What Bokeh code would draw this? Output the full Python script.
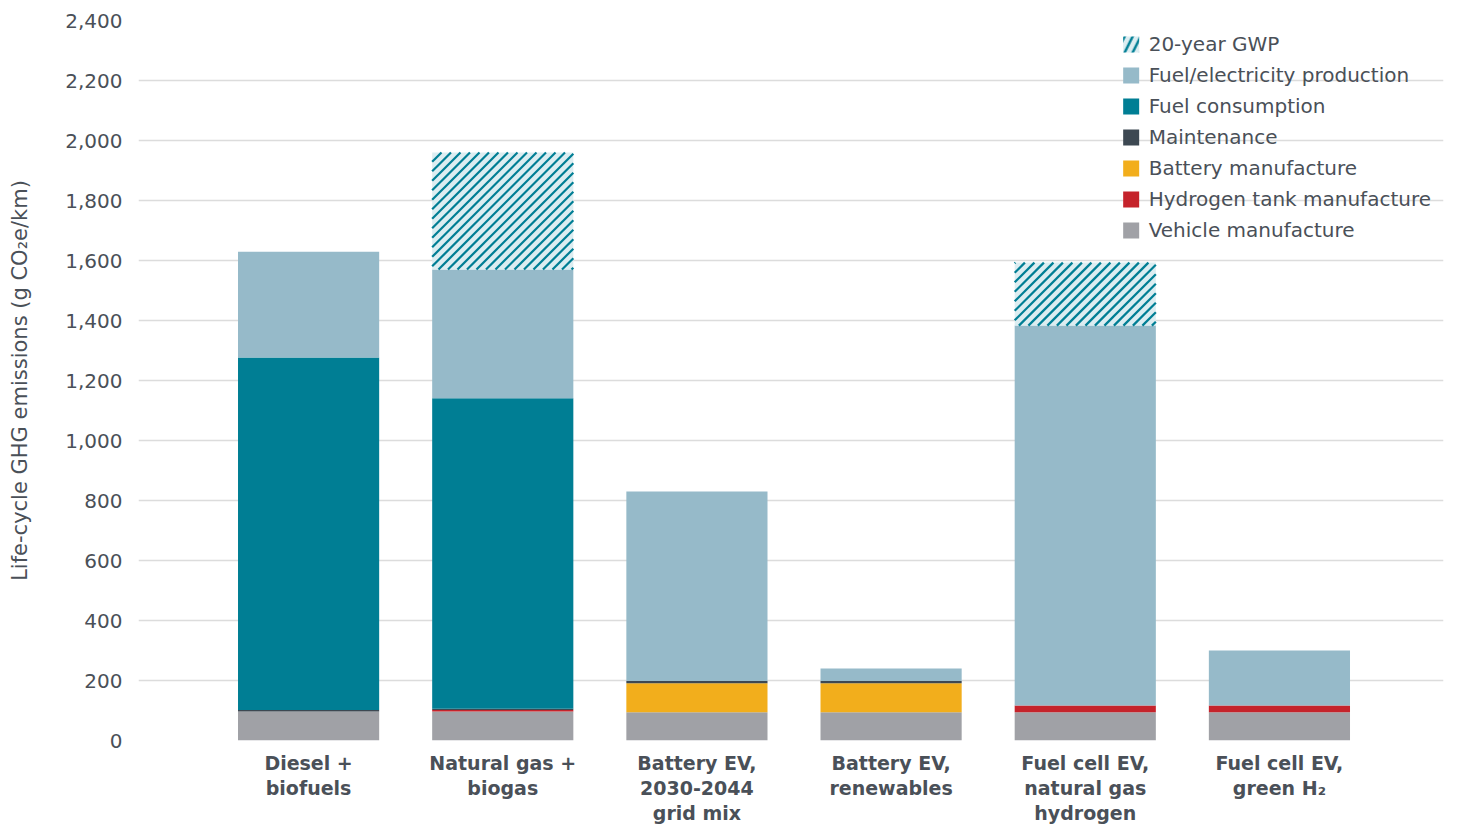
import numpy as np
from bokeh.plotting import figure
from bokeh.models import (ColumnDataSource, Range1d, FixedTicker, Legend, LegendItem,
                          NumeralTickFormatter)
from bokeh.embed import file_html
from bokeh.resources import INLINE

categories = ["Diesel +\nbiofuels", "Natural gas +\nbiogas", "Battery EV,\n2030-2044\ngrid mix",
              "Battery EV,\nrenewables", "Fuel cell EV,\nnatural gas\nhydrogen", "Fuel cell EV,\ngreen H\u2082"]
vehicle = [97, 97, 94, 94, 94, 94]
h2tank = [0, 5, 0, 0, 23, 23]
battery = [0, 0, 97, 97, 0, 0]
maintenance = [5, 4, 7, 7, 0, 0]
consumption = [1175, 1035, 0, 0, 0, 0]
production = [352, 429, 632, 42, 1266, 183]
gwp20 = [0, 390, 0, 0, 210, 0]

names = ["vehicle", "h2tank", "battery", "maintenance", "consumption", "production", "gwp20"]
labels = ["Vehicle manufacture", "Hydrogen tank manufacture", "Battery manufacture", "Maintenance",
          "Fuel consumption", "Fuel/electricity production", "20-year GWP"]
colors = ["#a0a1a6", "#c5232b", "#f2ae1c", "#3d4852", "#007e94", "#96bac9", "#dcedf1"]
HATCH = "#007e94"

x = list(range(len(categories)))
data = dict(x=x, vehicle=vehicle, h2tank=h2tank, battery=battery, maintenance=maintenance,
            consumption=consumption, production=production, gwp20=gwp20)
src = ColumnDataSource(data)

FONT = "DejaVu Sans"
TXT = "#4a5058"
FW, FH = 1305, 720
XR = (-0.876, 5.845)
YR = (0, 2400)
BAR_W = 0.727
p = figure(frame_width=FW, frame_height=FH, output_backend="svg", toolbar_location=None,
           x_range=Range1d(*XR), y_range=Range1d(*YR),
           min_border_left=138, min_border_right=10, min_border_top=20, min_border_bottom=5)
p.outline_line_color = None
p.background_fill_color = "white"

rs = p.vbar_stack(names, x="x", width=BAR_W, source=src, color=colors, line_color=None)

# 45-degree hatching of the "20-year GWP" segments, derived from the stacked data
sx = FW / (XR[1] - XR[0])
sy = FH / (YR[1] - YR[0])
step = 9.5
lw = 2.2
bottoms = np.sum([data[n] for n in names[:-1]], axis=0)
x0s, y0s, x1s, y1s = [], [], [], []
for xi, b, g in zip(x, bottoms, gwp20):
    if g <= 0:
        continue
    L = (xi - BAR_W / 2 - XR[0]) * sx
    R = (xi + BAR_W / 2 - XR[0]) * sx
    B = b * sy
    T = (b + g) * sy
    c = np.ceil((B - R) / step) * step
    while c < T - L:
        a = max(L, B - c)
        e = min(R, T - c)
        if e > a:
            x0s.append(a / sx + XR[0]); y0s.append((a + c) / sy)
            x1s.append(e / sx + XR[0]); y1s.append((e + c) / sy)
        c += step
p.segment(x0=x0s, y0=y0s, x1=x1s, y1=y1s, line_color=HATCH, line_width=lw)

# legend swatch for the hatched series (zero-height bar, only its legend glyph shows)
leg_src = ColumnDataSource(dict(x=[x[0]], top=[0]))
leg_r = p.vbar(x="x", top="top", width=BAR_W, source=leg_src, fill_color=colors[-1],
               line_color=None, hatch_pattern="/", hatch_color=HATCH, hatch_scale=16,
               hatch_weight=2.5)

p.xgrid.grid_line_color = None
p.ygrid.grid_line_color = "#dcdcdc"
p.ygrid.grid_line_width = 1.5
p.yaxis.ticker = FixedTicker(ticks=list(range(0, 2401, 200)))
p.yaxis.formatter = NumeralTickFormatter(format="0,0")
p.yaxis.axis_line_color = None
p.yaxis.major_tick_line_color = None
p.yaxis.minor_tick_line_color = None
p.yaxis.major_label_text_font = FONT
p.yaxis.major_label_text_font_size = "20px"
p.yaxis.major_label_text_color = TXT
p.yaxis.major_label_standoff = 10
p.yaxis.axis_label = "Life-cycle GHG emissions (g CO\u2082e/km)"
p.yaxis.axis_label_text_font = FONT
p.yaxis.axis_label_text_font_style = "normal"
p.yaxis.axis_label_text_font_size = "21px"
p.yaxis.axis_label_text_color = TXT
p.yaxis.axis_label_standoff = 30

p.xaxis.ticker = FixedTicker(ticks=x)
p.xaxis.major_label_overrides = {i: c for i, c in zip(x, categories)}
p.xaxis.axis_line_color = None
p.xaxis.major_tick_line_color = None
p.xaxis.minor_tick_line_color = None
p.xaxis.major_label_text_font = FONT
p.xaxis.major_label_text_font_style = "bold"
p.xaxis.major_label_text_font_size = "19px"
p.xaxis.major_label_text_color = TXT
p.xaxis.major_label_text_line_height = 1.15
p.xaxis.major_label_standoff = 5

leg_rs = rs[:-1] + [leg_r]
items = [LegendItem(label=labels[i], renderers=[leg_rs[i]]) for i in reversed(range(len(leg_rs)))]
leg = Legend(items=items, location="top_right", border_line_color=None,
             background_fill_alpha=0, label_text_font=FONT, label_text_font_size="20px",
             label_text_color=TXT, glyph_width=20, glyph_height=20, label_height=20,
             spacing=7, label_standoff=8, padding=0, margin=12)
p.add_layout(leg, "center")

open("out.html", "w").write(file_html(p, INLINE))
